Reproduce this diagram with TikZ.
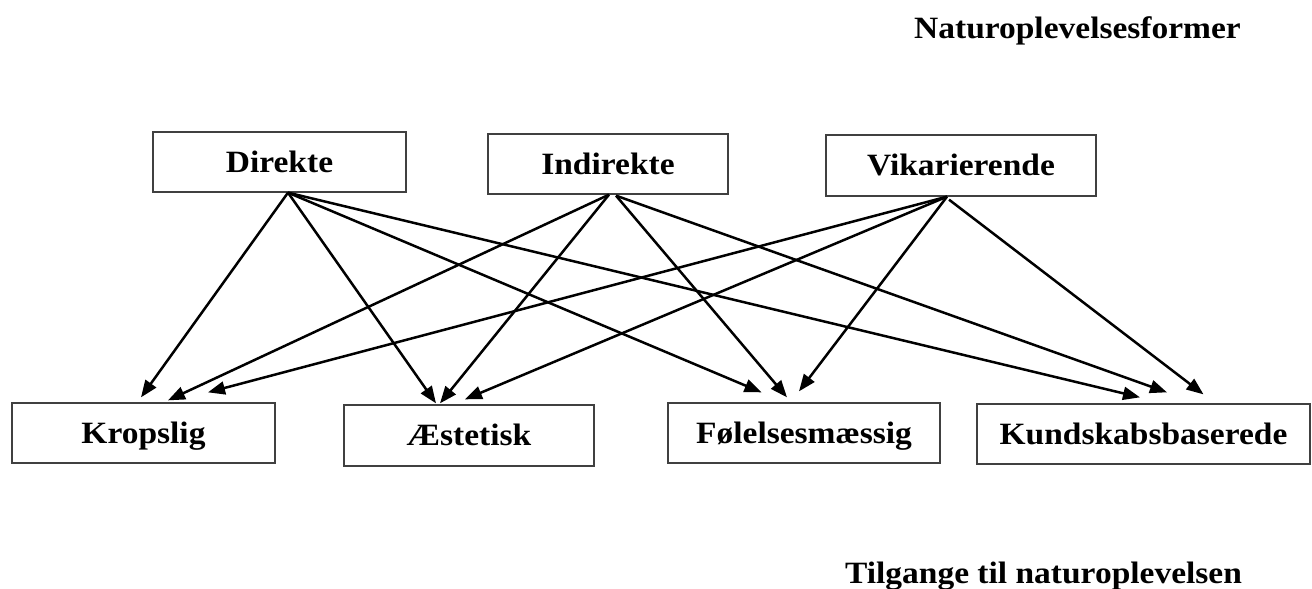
\documentclass[tikz,border=0pt]{standalone}
\usepackage{fontspec}
\setmainfont{Liberation Serif}[FakeStretch=1.08]
\usetikzlibrary{arrows.meta}
\begin{document}
\begin{tikzpicture}[x=1pt,y=-1pt,
  box/.style={draw=black!75,line width=1.3pt,fill=white,inner sep=0pt,
    text height=20pt,text depth=0pt,
    font=\fontsize{31}{36}\selectfont\bfseries},
  title/.style={anchor=base,inner sep=0pt,font=\fontsize{31}{36}\selectfont\bfseries},
  arr/.style={line width=2.5pt,-{Triangle[length=17pt,width=13pt]}}]
\useasboundingbox (0,0) rectangle (1312,589);
\node[title] (t1) at (1077.5,38) {Naturoplevelsesformer};
\node[title] (t2) at (1043.5,583) {Tilgange til naturoplevelsen};
% top
\node[box,minimum width=253pt,minimum height=60pt] (dir) at (279.5,162) {Direkte};
\node[box,minimum width=240pt,minimum height=60pt] (ind) at (608,164) {Indirekte};
\node[box,minimum width=270pt,minimum height=61pt] (vik) at (961,165.5) {Vikarierende};
% bottom
\node[box,minimum width=263pt,minimum height=60pt] (krop) at (143.5,433) {Kropslig};
\node[box,minimum width=250pt,minimum height=61pt] (aest) at (469,435.5) {Æstetisk};
\node[box,minimum width=272pt,minimum height=60pt] (fol) at (804,433) {Følelsesmæssig};
\node[box,minimum width=333pt,minimum height=60pt] (kund) at (1143.5,434) {Kundskabsbaserede};
% arrows from Direkte
\draw[arr] ([xshift=8.5pt]dir.south) -- ([xshift=-2.5pt,yshift=5pt]krop.north);
\draw[arr] ([xshift=8.5pt]dir.south) -- ([xshift=-33pt,yshift=1pt]aest.north);
\draw[arr] ([xshift=8.5pt]dir.south) -- ([xshift=-42.5pt,yshift=10pt]fol.north);
\draw[arr] ([xshift=8.5pt]dir.south) -- ([xshift=-3.5pt,yshift=6pt]kund.north);
% arrows from Indirekte
\draw[arr] ([xshift=1pt]ind.south) -- ([xshift=24.5pt,yshift=2pt]krop.north);
\draw[arr] ([xshift=1pt]ind.south) -- ([xshift=-29pt,yshift=1pt]aest.north);
\draw[arr] ([xshift=8pt,yshift=-1pt]ind.south) -- ([xshift=-17pt,yshift=5pt]fol.north);
\draw[arr] ([xshift=8pt,yshift=-1pt]ind.south) -- ([xshift=23.5pt,yshift=11pt]kund.north);
% arrows from Vikarierende
\draw[arr] ([xshift=-14pt]vik.south) -- ([xshift=64.5pt,yshift=10pt]krop.north);
\draw[arr] ([xshift=-14pt]vik.south) -- ([xshift=-4pt,yshift=5pt]aest.north);
\draw[arr] ([xshift=-14pt]vik.south) -- ([xshift=-5pt,yshift=11pt]fol.north);
\draw[arr] ([xshift=-12pt,yshift=-3pt]vik.south) -- ([xshift=60pt,yshift=9pt]kund.north);
\end{tikzpicture}
\end{document}
